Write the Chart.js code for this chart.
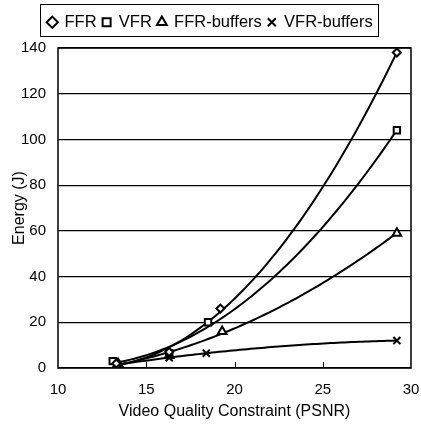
<!DOCTYPE html>
<html>
<head>
<meta charset="UTF-8">
<script src="https://cdn.jsdelivr.net/npm/chart.js"></script>
<style>
  * { margin: 0; padding: 0; }
  body { background: #fff; width: 421px; height: 427px; overflow: hidden; }
  #wrap { position: relative; width: 421px; height: 427px; }
</style>
</head>
<body>
<div id="wrap"><canvas id="chart"></canvas></div>
<script>
  // values: [PSNR, energy]
  const seriesNames = ['FFR', 'VFR', 'FFR-buffers', 'VFR-buffers'];
  const ffrX = [13.3, 16.3, 19.2, 29.2];
  const ffrY = [2, 7, 26, 138];
  const vfrX = [13.1, 16.3, 18.5, 29.2];
  const vfrY = [3, 6.5, 20, 104];
  const ffrBufX = [13.4, 16.3, 19.3, 29.2];
  const ffrBufY = [2, 5.5, 16, 59];
  const vfrBufX = [13.4, 16.3, 18.4, 29.2];
  const vfrBufY = [1.5, 4.5, 6.5, 12];
  const xTicks = [10, 15, 20, 25, 30];
  const yTicks = [0, 20, 40, 60, 80, 100, 120, 140];

  const FONT = "'Liberation Sans', Arial, sans-serif";
  const pts = (xs, ys) => xs.map((x, i) => ({ x: x, y: ys[i] }));
  const markers = ['rectRot', 'rect', 'triangle', 'crossRot'];
  const sizes = [4, 4.5, 5, 5];
  const all = [[ffrX, ffrY], [vfrX, vfrY], [ffrBufX, ffrBufY], [vfrBufX, vfrBufY]];

  const datasets = all.map((d, i) => ({
    label: seriesNames[i],
    data: pts(d[0], d[1]),
    showLine: false,
    borderColor: '#000',
    backgroundColor: '#fff',
    pointStyle: markers[i],
    pointRadius: sizes[i],
    pointBorderWidth: 2,
    pointBorderColor: '#000',
    pointBackgroundColor: '#fff'
  }));

  // 2nd order least squares fit (like the trendlines of the original)
  function quadFit(data) {
    const n = data.length;
    const m = data.reduce((s, p) => s + p.x, 0) / n;
    const S = [0, 0, 0, 0, 0], T = [0, 0, 0];
    data.forEach(p => {
      const u = p.x - m;
      for (let k = 0; k < 5; k++) S[k] += Math.pow(u, k);
      for (let k = 0; k < 3; k++) T[k] += Math.pow(u, k) * p.y;
    });
    const A = [[S[0], S[1], S[2], T[0]], [S[1], S[2], S[3], T[1]], [S[2], S[3], S[4], T[2]]];
    for (let i = 0; i < 3; i++) {
      for (let j = i + 1; j < 3; j++) {
        const f = A[j][i] / A[i][i];
        for (let k = i; k < 4; k++) A[j][k] -= f * A[i][k];
      }
    }
    const c = [0, 0, 0];
    for (let i = 2; i >= 0; i--) {
      let s = A[i][3];
      for (let k = i + 1; k < 3; k++) s -= A[i][k] * c[k];
      c[i] = s / A[i][i];
    }
    return x => c[0] + c[1] * (x - m) + c[2] * (x - m) * (x - m);
  }

  const trendlines = {
    id: 'trendlines',
    beforeDatasetsDraw(chart) {
      const c = chart.ctx, xs = chart.scales.x, ys = chart.scales.y, a = chart.chartArea;
      c.save();
      c.beginPath();
      c.rect(a.left, a.top, a.right - a.left, a.bottom - a.top);
      c.clip();
      c.strokeStyle = '#000';
      c.lineWidth = 2;
      c.lineJoin = 'round';
      chart.data.datasets.forEach(ds => {
        const f = quadFit(ds.data);
        const x0 = Math.min(...ds.data.map(p => p.x));
        const x1 = Math.max(...ds.data.map(p => p.x));
        c.beginPath();
        for (let i = 0; i <= 80; i++) {
          const x = x0 + (x1 - x0) * i / 80;
          const px = xs.getPixelForValue(x), py = ys.getPixelForValue(f(x));
          if (i === 0) c.moveTo(px, py); else c.lineTo(px, py);
        }
        c.stroke();
      });
      c.restore();
    }
  };

  // legend gets a fixed height so the plot starts lower
  const legendHeight = {
    id: 'legendHeight',
    beforeInit(chart) {
      const lg = chart.legend;
      const fit = lg.fit;
      lg.fit = function () { fit.call(this); this.height = 40; };
    }
  };

  // frame around the plot and around the legend, small x ticks inside
  const frames = {
    id: 'frames',
    afterDraw(chart) {
      const c = chart.ctx, a = chart.chartArea, xs = chart.scales.x;
      c.save();
      c.strokeStyle = '#000';
      c.lineWidth = 1.5;
      c.strokeRect(a.left, a.top, a.right - a.left, a.bottom - a.top);
      c.lineWidth = 1;
      c.strokeRect(40.5, 4.5, 338, 32);
      c.beginPath();
      [15, 20, 25].forEach(v => {
        const px = Math.round(xs.getPixelForValue(v)) + 0.5;
        c.moveTo(px, a.bottom);
        c.lineTo(px, a.bottom - 6);
      });
      c.stroke();
      c.restore();
    }
  };

  new Chart(document.getElementById('chart'), {
    type: 'scatter',
    data: { datasets },
    plugins: [legendHeight, trendlines, frames],
    options: {
      responsive: true,
      maintainAspectRatio: false,
      animation: false,
      layout: { padding: { left: 0, right: 0, top: 8, bottom: 0 } },
      plugins: {
        legend: {
          display: true,
          position: 'top',
          labels: {
            usePointStyle: true,
            boxWidth: 8,
            boxHeight: 8,
            padding: 6,
            color: '#000',
            font: { family: FONT, size: 16.5 }
          }
        },
        tooltip: { enabled: false }
      },
      scales: {
        x: {
          type: 'linear',
          min: 10, max: 30,
          afterBuildTicks: s => { s.ticks = xTicks.map(v => ({ value: v })); },
          afterFit: s => { s.height = 59; s.paddingRight = 10; s.paddingLeft = 0; },
          grid: { display: false, drawTicks: false },
          border: { display: false },
          ticks: { color: '#000', padding: 13, font: { family: FONT, size: 15 } },
          title: { display: true, text: 'Video Quality Constraint (PSNR)', color: '#000', padding: { top: 0, bottom: 6 }, font: { family: FONT, size: 16 } }
        },
        y: {
          min: 0, max: 140,
          afterBuildTicks: s => { s.ticks = yTicks.map(v => ({ value: v })); },
          afterFit: s => { s.width = 58; },
          grid: { color: '#000', lineWidth: 1.2, drawTicks: false },
          border: { display: false },
          ticks: { color: '#000', padding: 12, font: { family: FONT, size: 15 } },
          title: { display: true, text: 'Energy (J)', color: '#000', padding: { top: 10, bottom: 0 }, font: { family: FONT, size: 16 } }
        }
      }
    }
  });
</script>
</body>
</html>
